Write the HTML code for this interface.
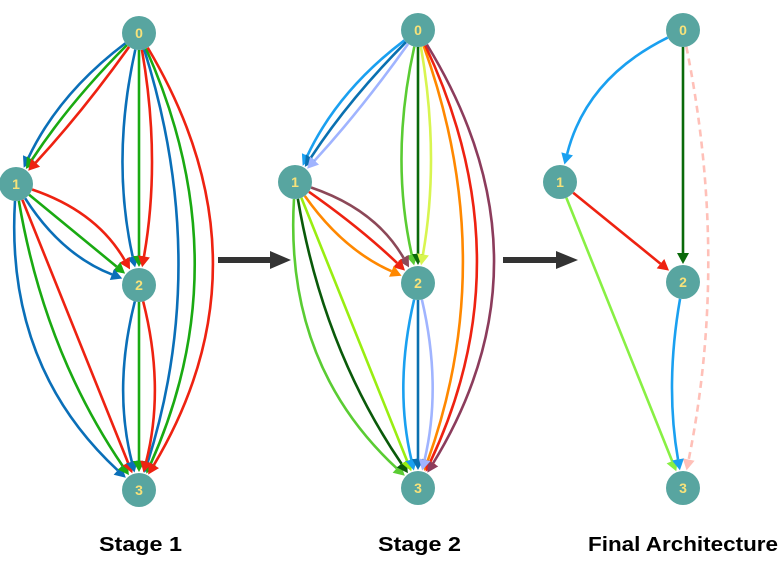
<!DOCTYPE html>
<html><head><meta charset="utf-8"><style>
html,body{margin:0;padding:0;background:#fff;width:779px;height:564px;overflow:hidden}
svg{display:block}
text{font-family:"Liberation Sans",Arial,sans-serif}
</style></head><body>
<svg id="s" width="779" height="564" viewBox="0 0 779 564" xmlns="http://www.w3.org/2000/svg">
<g id="edges"></g>
<g id="nodes"></g>
<line x1="218" y1="260" x2="272" y2="260" stroke="#333" stroke-width="6"/>
<polygon points="270,251 291,260 270,269" fill="#333"/>
<line x1="503" y1="260" x2="558" y2="260" stroke="#333" stroke-width="6"/>
<polygon points="556,251 578,260 556,269" fill="#333"/>
<text x="99" y="551" font-size="20" font-weight="bold" textLength="83" lengthAdjust="spacingAndGlyphs" fill="#000">Stage 1</text>
<text x="378" y="551" font-size="20" font-weight="bold" textLength="83" lengthAdjust="spacingAndGlyphs" fill="#000">Stage 2</text>
<text x="588" y="551" font-size="20" font-weight="bold" textLength="190" lengthAdjust="spacingAndGlyphs" fill="#000">Final Architecture</text>
</svg>
<script>
var NS="http://www.w3.org/2000/svg";
var E=document.getElementById('edges'),N=document.getElementById('nodes');
var R=17;
function el(t,a,p){var e=document.createElementNS(NS,t);for(var k in a)e.setAttribute(k,a[k]);(p||E).appendChild(e);return e;}
function edge(a,b,c,col,dash){
 var dx=b[0]-a[0],dy=b[1]-a[1],L=Math.hypot(dx,dy);
 var px=-dy/L,py=dx/L;
 var cx=(a[0]+b[0])/2+px*c,cy=(a[1]+b[1])/2+py*c;
 var sx=cx-a[0],sy=cy-a[1],sl=Math.hypot(sx,sy);
 var x0=a[0]+sx/sl*R,y0=a[1]+sy/sl*R;
 var ex=b[0]-cx,ey=b[1]-cy,el2=Math.hypot(ex,ey);ex/=el2;ey/=el2;
 var tx=b[0]-ex*(R+1),ty=b[1]-ey*(R+1);
 var lx=tx-ex*11,ly=ty-ey*11;
 var at={d:"M"+x0+","+y0+" Q"+cx+","+cy+" "+lx+","+ly,fill:"none",stroke:col,"stroke-width":2.6};
 if(dash)at["stroke-dasharray"]="7,5";
 el("path",at);
 var w=6;
 el("polygon",{points:tx+","+ty+" "+(lx-ey*w)+","+(ly+ex*w)+" "+(lx+ey*w)+","+(ly-ex*w),fill:col});
}
function node(p,l){
 el("circle",{cx:p[0],cy:p[1],r:R,fill:"#58a5a0"},N);
 var t=el("text",{x:p[0],y:p[1]+5,"font-size":14,"font-weight":"bold","text-anchor":"middle",fill:"#f7e27a"},N);
 t.textContent=l;
}
var a0=[139,33],a1=[16,184],a2=[139,285],a3=[139,490];
edge(a0,a1,24,"#0a6fb8");edge(a0,a1,10,"#1aaa12");edge(a0,a1,-6,"#ee2211");
edge(a0,a2,28,"#0a6fb8");edge(a0,a2,0,"#1aaa12");edge(a0,a2,-22,"#ee2211");
edge(a0,a3,-72,"#0a6fb8");edge(a0,a3,-102,"#1aaa12");edge(a0,a3,-136,"#ee2211");
edge(a1,a2,-30,"#ee2211");edge(a1,a2,0,"#1aaa12");edge(a1,a2,26,"#0a6fb8");
edge(a1,a3,78,"#0a6fb8");edge(a1,a3,36,"#1aaa12");edge(a1,a3,0,"#ee2211");
edge(a2,a3,26,"#0a6fb8");edge(a2,a3,0,"#1aaa12");edge(a2,a3,-26,"#ee2211");
[a0,a1,a2,a3].forEach(function(p,i){node(p,i)});
var b0=[418,30],b1=[295,182],b2=[418,283],b3=[418,488];
edge(b0,b1,24,"#1aa0f0");edge(b0,b1,10,"#0a70b0");edge(b0,b1,-6,"#a0b4ff");
edge(b0,b2,28,"#5acc33");edge(b0,b2,0,"#0a6a0a");edge(b0,b2,-22,"#d8f550");
edge(b0,b3,-82,"#ff8800");edge(b0,b3,-108,"#ee2211");edge(b0,b3,-140,"#8c3c5c");
edge(b1,b2,-30,"#8c4858");edge(b1,b2,-6,"#ee2211");edge(b1,b2,22,"#ff8800");
edge(b1,b3,78,"#5acc33");edge(b1,b3,36,"#0a5a0a");edge(b1,b3,0,"#99ee11");
edge(b2,b3,24,"#1aa0f0");edge(b2,b3,0,"#0a70b0");edge(b2,b3,-24,"#a0b4ff");
[b0,b1,b2,b3].forEach(function(p,i){node(p,i)});
var c0=[683,30],c1=[560,182],c2=[683,282],c3=[683,488];
edge(c0,c1,45,"#1aa0f0");edge(c0,c2,0,"#0a6a0a");edge(c0,c3,-46,"#ffc0b8",true);
edge(c1,c2,0,"#ee2211");edge(c1,c3,0,"#88f044");edge(c2,c3,18,"#1aa0f0");
[c0,c1,c2,c3].forEach(function(p,i){node(p,i)});
</script>
</body></html>
